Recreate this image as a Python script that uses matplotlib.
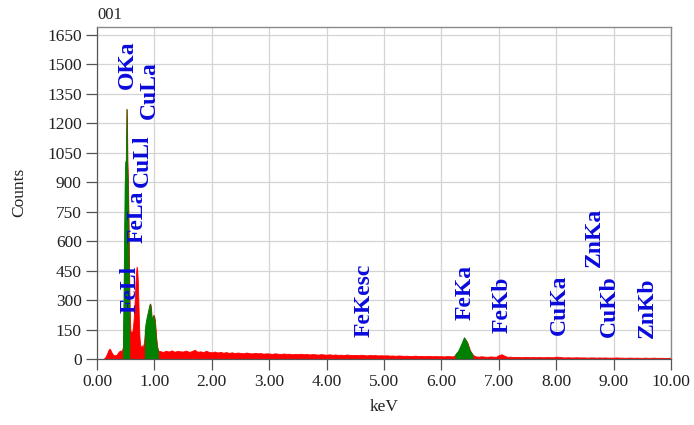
import numpy as np
import matplotlib
matplotlib.use("Agg")
import matplotlib.pyplot as plt

plt.rcParams['font.family'] = ['Liberation Serif', 'DejaVu Serif']

# ---- spectrum data (counts per channel) ----
# low-energy segment: 0.10 .. 1.07 keV, 0.01 keV channels
fine_start, fine_step = 0.10, 0.01
fine_counts = [
    0, 0, 2, 5, 8, 12, 18, 25, 32, 40,
    46, 50, 52, 48, 42, 36, 30, 26, 22, 20,
    19, 18, 20, 19, 22, 25, 30, 34, 38, 40,
    42, 44, 40, 42, 48, 62, 110, 300, 600, 880,
    1000, 1010, 1270, 1005, 900, 700, 420, 250, 150, 128,
    140, 130, 150, 175, 210, 260, 320, 390, 440, 470,
    455, 400, 300, 190, 110, 75, 62, 58, 70, 55,
    60, 75, 90, 120, 145, 170, 190, 205, 220, 232,
    245, 258, 272, 280, 262, 220, 195, 205, 215, 222,
    212, 192, 155, 115, 85, 62, 48, 42,
]
# remaining segment: 1.10 .. 10.00 keV, 0.05 keV channels
coarse_start, coarse_step = 1.10, 0.05
coarse_counts = [
    40, 36, 42, 38, 44, 37, 41, 39,
    38, 43, 36, 40, 47, 37, 39, 35, 42, 36,
    34, 38, 33, 36, 32, 35, 31, 34, 30, 33,
    31, 29, 33, 30, 28, 31, 29, 30, 27, 29,
    28, 26, 29, 27, 25, 28, 26, 27, 24, 26,
    25, 27, 24, 26, 23, 25, 24, 22, 25, 23,
    22, 24, 21, 23, 21, 22, 20, 23, 21, 20,
    21, 19, 22, 20, 18, 21, 19, 20, 18, 19,
    18, 19, 17, 18, 16, 18, 17, 16, 17, 15,
    16, 17, 15, 16, 14, 16, 15, 14, 15, 14,
    14, 13, 15, 14, 13, 22, 40, 72, 108, 85,
    42, 20, 13, 12, 14, 12, 11, 13, 12, 11,
    20, 24, 16, 11, 12, 10, 11, 10, 9, 11,
    10, 9, 10, 9, 10, 9, 9, 10, 9, 9,
    12, 11, 9, 8, 9, 8, 8, 9, 8, 8,
    8, 7, 8, 8, 7, 8, 7, 8, 7, 7,
    7, 8, 7, 7, 6, 7, 7, 6, 7, 6,
    6, 7, 6, 6, 7, 6, 6, 6, 5, 6,
    6,
]

# energy windows of identified peaks (shaded green)
peak_windows = [(0.455, 0.575), (0.835, 1.075), (6.245, 6.575)]

# element line labels: name, energy (keV), count level of label start
line_names = ["OKa", "CuLa", "CuLl", "FeLa", "FeLl", "FeKesc",
              "FeKa", "FeKb", "CuKa", "ZnKa", "CuKb", "ZnKb"]
line_kev = [0.531, 0.906, 0.793, 0.697, 0.575, 4.65,
            6.41, 7.06, 8.05, 8.66, 8.92, 9.58]
label_counts = [1375, 1223, 874, 589, 234, 113,
                198, 132, 122, 469, 113, 107]

x_ticks = [0, 1, 2, 3, 4, 5, 6, 7, 8, 9, 10]
y_ticks = [0, 150, 300, 450, 600, 750, 900, 1050, 1200, 1350, 1500, 1650]

# ---- build channel grid ----
e_fine = fine_start + fine_step * np.arange(len(fine_counts))
e_coarse = coarse_start + coarse_step * np.arange(len(coarse_counts))
energy = np.concatenate([e_fine, e_coarse])
counts = np.array(fine_counts + coarse_counts, dtype=float)

fig = plt.figure(figsize=(6.94, 4.25), dpi=100)
ax = fig.add_axes([0.1398, 0.1553, 0.8271, 0.7819])

ax.set_axisbelow(True)
ax.grid(True, color='#d4d4d4', linewidth=0.9)

ax.fill_between(energy, 0, counts, color='#ff0000', linewidth=0.6,
                edgecolor='#ff0000', zorder=2)
mask = np.zeros_like(energy, dtype=bool)
for lo, hi in peak_windows:
    mask |= (energy >= lo) & (energy <= hi)
ax.fill_between(energy, 0, counts, where=mask, color='#008000',
                linewidth=0.6, edgecolor='#008000', zorder=3)

for name, kev, cnt in zip(line_names, line_kev, label_counts):
    ax.text(kev, cnt, name, rotation=90, ha='center', va='bottom',
            color='#0a0adc', fontsize=17, fontweight='bold', zorder=5)

ax.set_xlim(0, 10)
ax.set_ylim(0, 1690)
ax.set_xticks(x_ticks)
ax.set_xticklabels([f"{v:.2f}" for v in x_ticks])
ax.set_yticks(y_ticks)
ax.set_yticklabels([str(v) for v in y_ticks])
ax.tick_params(axis='both', direction='out', length=8, width=0.9,
               color='#555555', labelsize=12.5, pad=3, labelcolor='#222222')

for side in ['left', 'bottom']:
    ax.spines[side].set_color('#555555')
    ax.spines[side].set_linewidth(0.9)
for side in ['top', 'right']:
    ax.spines[side].set_color('#8a8a8a')
    ax.spines[side].set_linewidth(1.0)

ax.set_xlabel('keV', fontsize=12.5, color='#222222', labelpad=6)
ax.set_ylabel('Counts', fontsize=12.5, color='#222222', labelpad=14)

fig.text(97 / 694, 0.965, '001', fontsize=12, color='#222222',
         ha='left', va='center')

fig.savefig('out.png', dpi=100)
